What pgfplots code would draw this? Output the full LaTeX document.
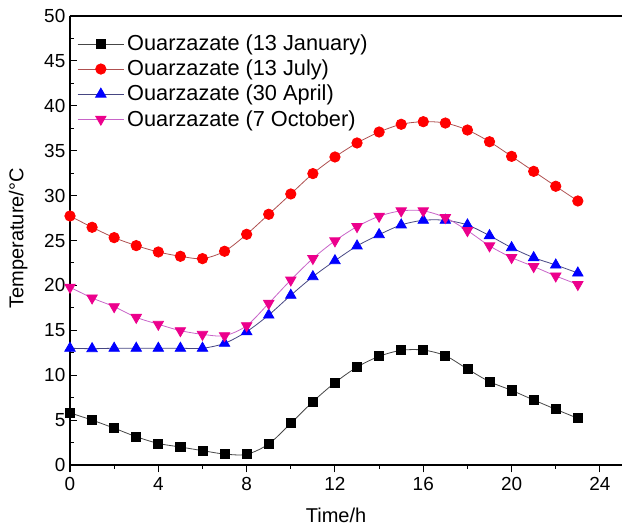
\documentclass[border=0pt]{standalone}
\usepackage{fontspec}
\setmainfont{Liberation Sans}
\usepackage{pgfplots}
\pgfplotsset{compat=1.18}
\definecolor{jline}{RGB}{70,70,70}
\definecolor{rline}{RGB}{175,80,80}
\definecolor{bline}{RGB}{70,70,130}
\definecolor{mline}{RGB}{200,100,200}
\begin{document}
\begin{tikzpicture}
\begin{axis}[
  at={(0,0)}, anchor=south west,
  scale only axis,
  width=414pt, height=336.75pt,
  xmin=0, xmax=25, ymin=0, ymax=50,
  axis lines*=left,
  axis line style={-, line width=0.9pt},
  xtick={0,4,...,24}, ytick={0,5,...,50},
  minor x tick num=1, minor y tick num=1,
  xtick align=outside, ytick align=inside,
  major tick length=5.5pt, minor tick length=3pt,
  every tick/.style={black, line width=0.8pt},
  tick label style={font=\fontsize{14.2}{16}\selectfont},
  /pgf/number format/assume math mode=true,
  xlabel={Time/h}, ylabel={Temperature/°C},
  label style={font=\fontsize{15}{17}\selectfont},
  x label style={at={(axis description cs:0.482,-0.085)}, anchor=north},
  y label style={at={(axis description cs:-0.094,0.505)}, anchor=center, rotate=0},
  legend style={draw=none, fill=none, at={(axis description cs:0.01,0.967)}, anchor=north west,
    font=\fontsize{16.3}{18}\selectfont, row sep=1.5pt, inner sep=1pt},
  legend cell align=left,
  legend image code/.code={\draw[mark repeat=2,mark phase=2,#1] plot coordinates {(0pt,0pt) (17.5pt,0pt) (35pt,0pt)};},
  clip=false,
]
\addplot[jline, line width=0.6pt, smooth, mark=square*, mark size=3.4pt, mark options={fill=black, draw=black, solid}] coordinates {
(0,5.8) (1,5.0) (2,4.1) (3,3.15) (4,2.4) (5,2.0) (6,1.6) (7,1.22) (8,1.19) (9,2.34) (10,4.64) (11,7.05) (12,9.17) (13,10.9) (14,12.1) (15,12.77) (16,12.8) (17,12.17) (18,10.69) (19,9.28) (20,8.31) (21,7.24) (22,6.2) (23,5.2)};
\addlegendentry{Ouarzazate (13 January)}
\addplot[rline, line width=0.6pt, smooth, mark=*, mark size=3.9pt, mark options={fill=red, draw=red, solid}] coordinates {
(0,27.73) (1,26.47) (2,25.32) (3,24.43) (4,23.72) (5,23.24) (6,22.98) (7,23.8) (8,25.69) (9,27.92) (10,30.18) (11,32.45) (12,34.3) (13,35.86) (14,37.08) (15,37.94) (16,38.23) (17,38.08) (18,37.3) (19,36.0) (20,34.37) (21,32.7) (22,31.04) (23,29.4)};
\addlegendentry{Ouarzazate (13 July)}
\addplot[bline, line width=0.6pt, smooth, mark=triangle*, mark size=4.5pt, mark options={fill=blue, draw=blue, solid}] coordinates {
(0,13.0) (1,12.95) (2,13.0) (3,13.0) (4,13.0) (5,13.0) (6,13.0) (7,13.55) (8,14.85) (9,16.7) (10,18.9) (11,20.97) (12,22.75) (13,24.39) (14,25.65) (15,26.73) (16,27.25) (17,27.25) (18,26.73) (19,25.54) (20,24.2) (21,23.09) (22,22.27) (23,21.38)};
\addlegendentry{Ouarzazate (30 April)}
\addplot[mline, line width=0.6pt, smooth, mark=triangle*, mark size=4.5pt, mark options={fill=magenta, draw=magenta, solid, rotate=180}] coordinates {
(0,19.8) (1,18.6) (2,17.63) (3,16.44) (4,15.67) (5,14.96) (6,14.55) (7,14.4) (8,15.51) (9,18.0) (10,20.6) (11,23.0) (12,24.96) (13,26.55) (14,27.7) (15,28.3) (16,28.3) (17,27.55) (18,26.1) (19,24.4) (20,23.1) (21,22.1) (22,21.05) (23,20.1)};
\addlegendentry{Ouarzazate (7 October)}
\draw[line width=0.9pt] (rel axis cs:0,1) -- (rel axis cs:1,1);
\end{axis}
\pgfresetboundingbox
\useasboundingbox (-52.5pt,-48.75pt) rectangle (414pt,348.75pt);
\end{tikzpicture}
\end{document}
